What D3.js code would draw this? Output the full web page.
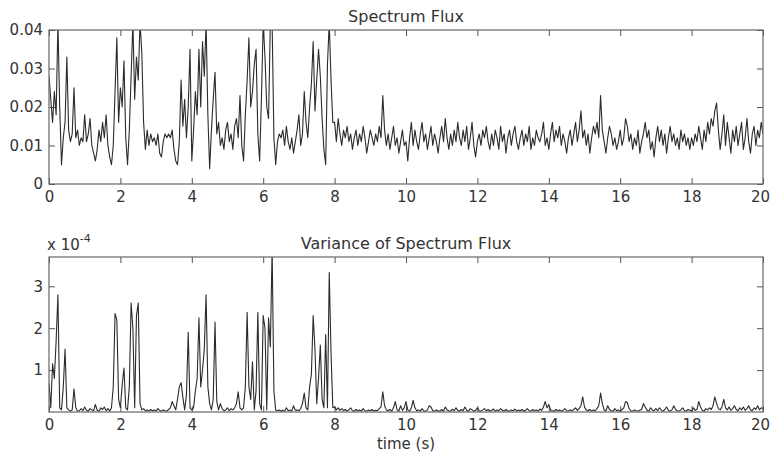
<!DOCTYPE html>
<html>
<head>
<meta charset="utf-8">
<script src="https://cdn.jsdelivr.net/npm/d3@7"></script>
<style>
  html, body { margin: 0; padding: 0; background: #fff; }
  text { font-family: "DejaVu Sans", sans-serif; fill: #333; }
</style>
</head>
<body>
<div id="chart"></div>
<script>
// Two stacked MATLAB-style panels: spectrum flux and its running variance.
// Both series are sampled every STEP seconds from t = 0 to 20 s.

const STEP = 0.05;

const timeTicks = [0, 2, 4, 6, 8, 10, 12, 14, 16, 18, 20];
const fluxTicks = [0, 0.01, 0.02, 0.03, 0.04];
const fluxTickLabels = ["0", "0.01", "0.02", "0.03", "0.04"];
const varTicks = [1, 2, 3];

// spectrum flux, in units of 1e-3 (one row = one second)
const fluxE3 = [
  28,22,16,24,18,42,20,5,12,16,33,14,11,13,25,12,14,10,12,11,
  18,11,13,17,10,8,6,9,14,11,16,12,18,10,7,5,10,24,38,16,
  25,20,32,12,5,14,28,42,22,33,27,42,34,16,9,14,10,13,11,12,
  10,13,8,7,11,13,12,13,12,14,9,6,5,11,27,15,22,12,20,35,
  6,14,24,18,35,20,37,28,42,18,4,14,22,29,13,16,10,12,9,14,
  16,11,13,9,15,17,12,23,10,6,18,27,38,20,24,31,35,13,6,22,
  42,33,20,17,42,42,12,5,11,13,12,14,10,15,11,9,12,8,11,14,
  18,10,13,24,16,12,20,26,37,19,27,35,28,17,9,5,31,42,27,16,
  16,11,17,13,10,14,12,15,11,13,9,12,14,10,13,11,15,12,8,11,
  14,12,10,13,11,15,12,23,14,10,13,9,12,15,10,12,8,11,14,10,
  11,6,12,16,10,14,11,9,13,16,11,13,9,12,15,10,13,11,8,12,
  15,11,17,12,9,13,10,14,11,16,12,10,14,11,15,9,12,16,10,7,
  11,13,10,14,12,15,11,9,13,10,14,12,9,15,11,13,8,12,14,10,
  13,15,11,9,12,14,10,13,11,15,9,12,10,14,12,11,13,16,10,12,
  9,13,16,11,14,12,15,10,13,11,8,12,14,10,13,16,11,14,19,12,
  14,10,13,8,12,15,13,16,12,23,14,11,8,12,15,13,10,12,9,11,
  14,10,12,17,15,11,13,9,12,10,14,8,11,13,16,12,14,9,11,7,
  12,15,11,14,10,13,8,12,15,11,13,10,12,9,14,11,13,10,12,9,
  12,10,13,11,15,12,9,14,11,16,13,17,15,19,21,14,9,13,18,10,
  16,12,8,14,11,15,10,13,16,9,12,17,11,8,13,15,10,14,12,16,
  13
];

// variance of spectrum flux, in units of 1e-4 (matches the "x 10^-4" label)
const varE4 = [
  0.7,0.1,1.15,0.8,1.7,2.8,0.1,0.05,0.6,1.5,0.1,0.05,0.02,0.05,0.55,0.1,0.02,0.03,0.08,0.03,
  0.12,0.04,0.02,0.08,0.05,0.03,0.18,0.04,0.02,0.1,0.06,0.12,0.03,0.08,0.02,0.1,0.6,2.35,2.2,0.3,
  0.1,0.65,1.05,0.1,0.05,0.6,2.6,2.0,0.1,2.3,2.6,0.2,0.05,0.08,0.03,0.05,0.02,0.06,0.03,0.05,
  0.02,0.08,0.04,0.02,0.05,0.03,0.02,0.06,0.1,0.25,0.15,0.05,0.3,0.6,0.7,0.35,0.05,0.4,1.9,0.1,
  0.05,0.1,0.5,0.8,2.25,0.6,1.0,1.5,2.8,0.6,0.2,0.05,0.3,2.15,0.25,0.05,0.2,0.08,0.03,0.05,
  0.1,0.03,0.08,0.05,0.1,0.2,0.48,0.1,0.05,0.1,0.6,2.38,0.6,0.3,1.2,0.05,0.5,2.38,0.2,0.05,
  2.3,2.0,0.05,2.25,1.55,3.9,0.5,0.05,0.03,0.05,0.02,0.04,0.02,0.1,0.03,0.05,0.02,0.15,0.04,0.05,
  0.03,0.08,0.2,0.45,0.1,0.05,0.6,0.9,2.3,1.5,0.2,0.8,1.6,0.3,0.1,1.85,0.1,3.33,1.4,0.1,
  0.12,0.05,0.1,0.04,0.08,0.03,0.06,0.02,0.05,0.1,0.03,0.02,0.06,0.03,0.05,0.02,0.08,0.03,0.02,0.05,
  0.03,0.06,0.02,0.04,0.03,0.08,0.12,0.48,0.15,0.05,0.03,0.06,0.02,0.1,0.25,0.05,0.02,0.15,0.04,0.1,
  0.25,0.05,0.02,0.1,0.28,0.1,0.03,0.05,0.02,0.08,0.03,0.02,0.05,0.15,0.12,0.03,0.02,0.05,0.03,0.02,
  0.06,0.02,0.12,0.05,0.03,0.02,0.07,0.03,0.1,0.04,0.02,0.06,0.03,0.12,0.04,0.02,0.08,0.05,0.02,0.04,
  0.1,0.03,0.02,0.05,0.08,0.03,0.06,0.02,0.04,0.07,0.02,0.05,0.03,0.08,0.04,0.02,0.06,0.03,0.02,0.05,
  0.03,0.07,0.02,0.05,0.03,0.06,0.02,0.04,0.08,0.03,0.02,0.06,0.03,0.05,0.02,0.07,0.04,0.12,0.25,0.1,
  0.18,0.05,0.03,0.02,0.06,0.03,0.05,0.02,0.04,0.08,0.03,0.02,0.05,0.03,0.06,0.1,0.04,0.08,0.15,0.36,
  0.12,0.05,0.03,0.06,0.02,0.05,0.03,0.08,0.15,0.45,0.2,0.05,0.03,0.15,0.06,0.03,0.02,0.08,0.03,0.05,
  0.02,0.06,0.1,0.25,0.22,0.08,0.03,0.02,0.05,0.03,0.02,0.04,0.06,0.2,0.12,0.04,0.02,0.1,0.05,0.03,
  0.08,0.03,0.1,0.05,0.02,0.06,0.12,0.04,0.02,0.05,0.15,0.06,0.03,0.02,0.05,0.1,0.03,0.02,0.06,0.04,
  0.02,0.1,0.04,0.06,0.25,0.12,0.04,0.02,0.08,0.05,0.1,0.06,0.15,0.36,0.2,0.08,0.05,0.12,0.3,0.1,
  0.05,0.12,0.04,0.08,0.15,0.06,0.03,0.1,0.05,0.12,0.04,0.08,0.15,0.05,0.03,0.1,0.06,0.15,0.05,0.1,
  0.08
];

const W = 771, H = 458;
const X0 = 49, X1 = 763;
const TICK = 6;

const svg = d3.select("#chart").append("svg")
  .attr("width", W).attr("height", H);

const x = d3.scaleLinear().domain([0, 20]).range([X0, X1]);

function drawPanel(opts) {
  const y = d3.scaleLinear().domain(opts.domain).range([opts.y1, opts.y0]);
  const g = svg.append("g");

  g.append("clipPath").attr("id", opts.id + "-clip")
    .append("rect")
      .attr("x", X0).attr("y", opts.y0)
      .attr("width", X1 - X0).attr("height", opts.y1 - opts.y0);

  // ticks point inward on every side, like a MATLAB box
  const bottomAxis = d3.axisBottom(x).tickValues(timeTicks)
    .tickSizeInner(-TICK).tickSizeOuter(0).tickPadding(7).tickFormat(d3.format("d"));
  const topAxis = d3.axisTop(x).tickValues(timeTicks)
    .tickSizeInner(-TICK).tickSizeOuter(0).tickFormat("");
  const leftAxis = d3.axisLeft(y).tickValues(opts.ticks)
    .tickSizeInner(-TICK).tickSizeOuter(0).tickPadding(6)
    .tickFormat((d, i) => opts.labels[i]);
  const rightAxis = d3.axisRight(y).tickValues(opts.ticks)
    .tickSizeInner(-TICK).tickSizeOuter(0).tickFormat("");

  const axes = [
    [bottomAxis, `translate(0,${opts.y1})`],
    [topAxis, `translate(0,${opts.y0})`],
    [leftAxis, `translate(${X0},0)`],
    [rightAxis, `translate(${X1},0)`],
  ];
  axes.forEach(([ax, tr]) => {
    const a = g.append("g").attr("transform", tr).call(ax);
    a.select(".domain").remove();
    a.selectAll(".tick line").attr("stroke", "#555").attr("stroke-width", 1);
    a.selectAll(".tick text")
      .style("font-family", "'DejaVu Sans', sans-serif")
      .style("font-size", "15px").attr("fill", "#333");
  });

  // keep the "20" label inside the page edge
  g.selectAll(".tick text").filter(d => d === 20).attr("dx", -3);

  const line = d3.line()
    .x((d, i) => x(i * STEP))
    .y(d => y(d * opts.unit));

  g.append("path")
    .datum(opts.values)
    .attr("clip-path", `url(#${opts.id}-clip)`)
    .attr("fill", "none")
    .attr("stroke", "#2b2b2b")
    .attr("stroke-width", 1.1)
    .attr("stroke-linejoin", "round")
    .attr("d", line);

  g.append("rect")
    .attr("x", X0).attr("y", opts.y0)
    .attr("width", X1 - X0).attr("height", opts.y1 - opts.y0)
    .attr("fill", "none").attr("stroke", "#666").attr("stroke-width", 1.2);

  g.append("text")
    .attr("x", (X0 + X1) / 2).attr("y", opts.y0 - 8)
    .attr("text-anchor", "middle")
    .style("font-size", "16px")
    .text(opts.title);
}

drawPanel({
  id: "flux", title: "Spectrum Flux",
  y0: 30, y1: 184, domain: [0, 0.04], unit: 1e-3,
  ticks: fluxTicks, labels: fluxTickLabels, values: fluxE3
});

drawPanel({
  id: "var", title: "Variance of Spectrum Flux",
  y0: 257, y1: 412, domain: [0, 3.7], unit: 1,
  ticks: varTicks, labels: varTicks.map(String), values: varE4
});

// exponent label above the lower panel
const expo = svg.append("text").attr("x", 47).attr("y", 250).style("font-size", "15px");
expo.append("tspan").text("x 10");
expo.append("tspan").attr("dy", -8).style("font-size", "11px").text("-4");

svg.append("text")
  .attr("x", (X0 + X1) / 2).attr("y", 449)
  .attr("text-anchor", "middle")
  .style("font-size", "15px")
  .text("time (s)");
</script>
</body>
</html>
